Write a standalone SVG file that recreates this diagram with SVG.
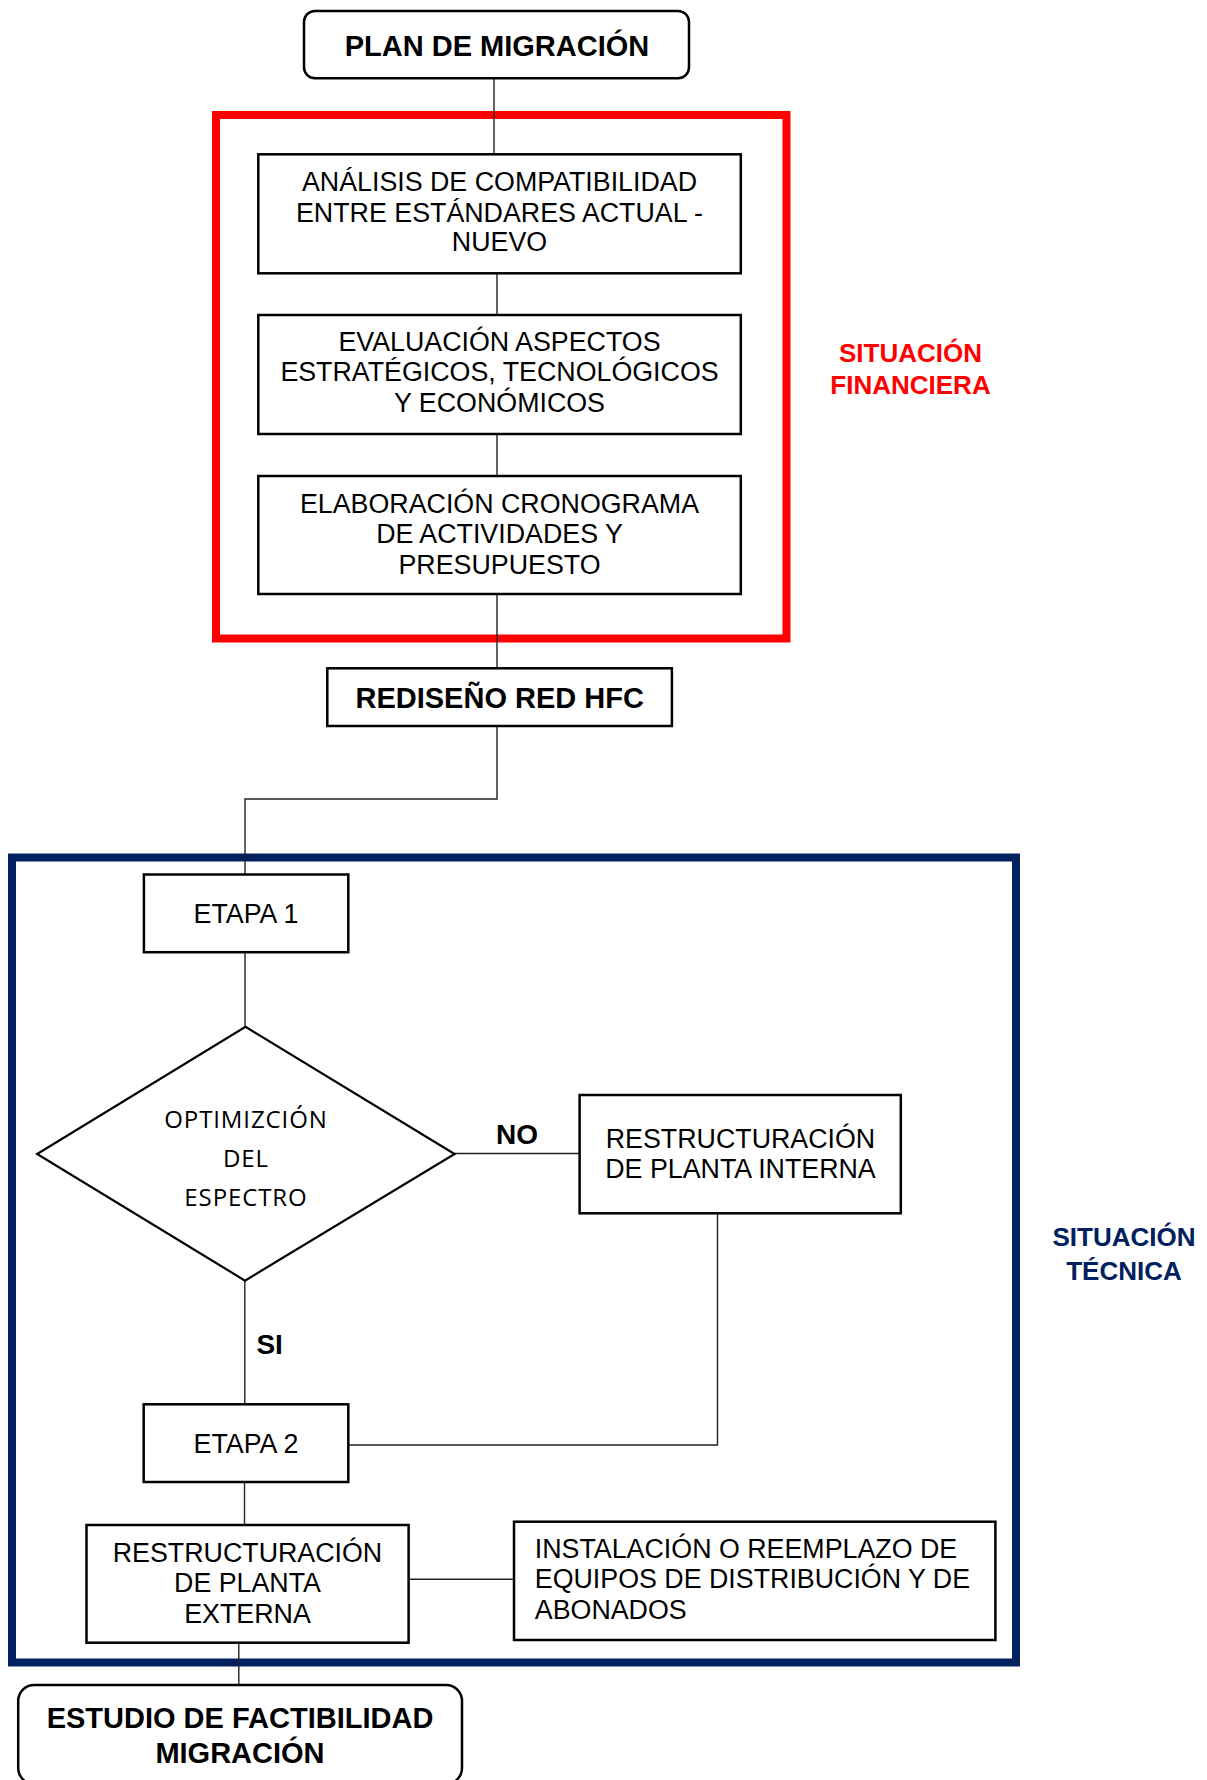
<svg xmlns="http://www.w3.org/2000/svg" width="1207" height="1780" viewBox="0 0 1207 1780">
  <style>
    .box { fill: #ffffff; stroke: #000000; stroke-width: 2.5; }
    .term { fill: #ffffff; stroke: #000000; stroke-width: 2.5; }
    .dec { fill: #ffffff; stroke: #000000; stroke-width: 2.2; }
    .wire { fill: none; stroke: #222222; stroke-width: 1.4; }
    .frame-fin { fill: none; stroke: #ff0000; stroke-width: 8; }
    .frame-tec { fill: none; stroke: #002060; stroke-width: 8; }
    text { font-family: "Liberation Sans", Arial, sans-serif; fill: #000000; }
    .t { font-size: 26.8px; text-anchor: middle; }
    .tl { font-size: 26.8px; text-anchor: start; }
    .tb { font-size: 29px; font-weight: bold; text-anchor: middle; }
    .lbl { font-size: 28px; font-weight: bold; }
    .dt { font-family: "Open Sans", "Noto Sans", sans-serif; font-size: 24px; letter-spacing: 0.9px; text-anchor: middle; }
    .fin { font-size: 26px; font-weight: bold; text-anchor: middle; fill: #ff0000; }
    .tec { font-size: 26px; font-weight: bold; text-anchor: middle; fill: #002060; }
  </style>

  <!-- grouping frames -->
  <g id="frame-financiera">
    <rect class="frame-fin" x="216" y="115" width="570.5" height="523.5"/>
    <text class="fin" x="910.5" y="362.3">SITUACIÓN</text>
    <text class="fin" x="910.5" y="394.3">FINANCIERA</text>
  </g>
  <g id="frame-tecnica">
    <rect class="frame-tec" x="12" y="857.5" width="1004" height="805"/>
    <text class="tec" x="1124" y="1245.7">SITUACIÓN</text>
    <text class="tec" x="1124" y="1280">TÉCNICA</text>
  </g>

  <!-- connectors -->
  <g id="connectors">
    <line class="wire" x1="494" y1="78" x2="494" y2="154.3"/>
    <line class="wire" x1="497" y1="273.3" x2="497" y2="315"/>
    <line class="wire" x1="497" y1="434" x2="497" y2="476"/>
    <line class="wire" x1="497" y1="594" x2="497" y2="668"/>
    <polyline class="wire" points="497,726 497,799 245,799 245,874.5"/>
    <line class="wire" x1="245" y1="952" x2="245" y2="1027"/>
    <line class="wire" x1="454.6" y1="1153.5" x2="579.6" y2="1153.5"/>
    <line class="wire" x1="244.8" y1="1280.6" x2="244.8" y2="1404.3"/>
    <polyline class="wire" points="717.5,1213.3 717.5,1445 348.3,1445"/>
    <line class="wire" x1="244.5" y1="1482" x2="244.5" y2="1525"/>
    <line class="wire" x1="408.6" y1="1579.3" x2="514" y2="1579.3"/>
    <line class="wire" x1="238.8" y1="1642.7" x2="238.8" y2="1685"/>
    <text class="lbl" x="496" y="1143.6">NO</text>
    <text class="lbl" x="256.4" y="1354">SI</text>
  </g>

  <!-- nodes -->
  <g id="plan-migracion">
    <rect class="term" x="304" y="11" width="385" height="67.3" rx="11" ry="11"/>
    <text class="tb" x="497" y="56">PLAN DE MIGRACIÓN</text>
  </g>

  <g id="analisis">
    <rect class="box" x="258.3" y="154.3" width="482.5" height="119"/>
    <text class="t" x="499.5" y="190.7">ANÁLISIS DE COMPATIBILIDAD</text>
    <text class="t" x="499.5" y="221.7">ENTRE ESTÁNDARES ACTUAL -</text>
    <text class="t" x="499.5" y="250.7">NUEVO</text>
  </g>

  <g id="evaluacion">
    <rect class="box" x="258.3" y="315" width="482.5" height="119"/>
    <text class="t" x="499.5" y="350.7">EVALUACIÓN ASPECTOS</text>
    <text class="t" x="499.5" y="381">ESTRATÉGICOS, TECNOLÓGICOS</text>
    <text class="t" x="499.5" y="411.7">Y ECONÓMICOS</text>
  </g>

  <g id="cronograma">
    <rect class="box" x="258.3" y="476" width="482.5" height="118"/>
    <text class="t" x="499.5" y="512.7">ELABORACIÓN CRONOGRAMA</text>
    <text class="t" x="499.5" y="543.3">DE ACTIVIDADES Y</text>
    <text class="t" x="499.5" y="574">PRESUPUESTO</text>
  </g>

  <g id="rediseno">
    <rect class="box" x="327.3" y="668.3" width="344.6" height="57.7"/>
    <text class="tb" x="499.7" y="708">REDISEÑO RED HFC</text>
  </g>

  <g id="etapa-1">
    <rect class="box" x="143.9" y="874.5" width="204.4" height="77.7"/>
    <text class="t" x="246" y="922.7">ETAPA 1</text>
  </g>

  <g id="optimizacion">
    <polygon class="dec" points="245.5,1026.8 454.6,1154 245,1280.6 37.1,1154"/>
    <text class="dt" x="246" y="1128.3">OPTIMIZCIÓN</text>
    <text class="dt" x="246" y="1167.3">DEL</text>
    <text class="dt" x="246" y="1205.6">ESPECTRO</text>
  </g>

  <g id="planta-interna">
    <rect class="box" x="579.6" y="1095" width="321.2" height="118.3"/>
    <text class="t" x="740.5" y="1147.7">RESTRUCTURACIÓN</text>
    <text class="t" x="740.5" y="1178.3">DE PLANTA INTERNA</text>
  </g>

  <g id="etapa-2">
    <rect class="box" x="143.7" y="1404.3" width="204.6" height="77.7"/>
    <text class="t" x="246" y="1452.7">ETAPA 2</text>
  </g>

  <g id="planta-externa">
    <rect class="box" x="86.5" y="1525" width="322.1" height="117.7"/>
    <text class="t" x="247.5" y="1561.7">RESTRUCTURACIÓN</text>
    <text class="t" x="247.5" y="1592.3">DE PLANTA</text>
    <text class="t" x="247.5" y="1622.7">EXTERNA</text>
  </g>

  <g id="instalacion">
    <rect class="box" x="514" y="1521.7" width="481.4" height="118.3"/>
    <text class="tl" x="534.8" y="1558.3">INSTALACIÓN O REEMPLAZO DE</text>
    <text class="tl" x="534.8" y="1588.3">EQUIPOS DE DISTRIBUCIÓN Y DE</text>
    <text class="tl" x="534.8" y="1619.3">ABONADOS</text>
  </g>

  <g id="estudio-factibilidad">
    <rect class="term" x="18.2" y="1685" width="443.8" height="99" rx="16" ry="16"/>
    <text class="tb" x="240" y="1728.3">ESTUDIO DE FACTIBILIDAD</text>
    <text class="tb" x="240" y="1762.7">MIGRACIÓN</text>
  </g>
</svg>
